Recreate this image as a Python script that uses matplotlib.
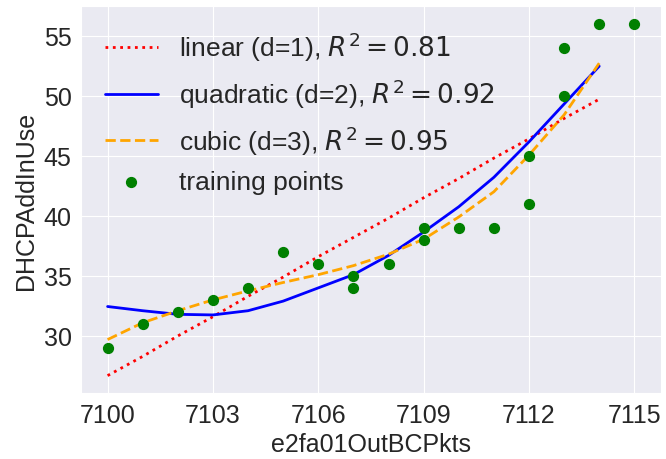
import matplotlib
matplotlib.use("Agg")
import matplotlib.pyplot as plt
import seaborn as sns

# training data
x_train = [7100, 7101, 7102, 7103, 7104, 7105, 7106, 7107, 7107, 7108,
           7109, 7109, 7110, 7111, 7112, 7112, 7113, 7113, 7114, 7115]
y_train = [29, 31, 32, 33, 34, 37, 36, 34, 35, 36,
           38, 39, 39, 39, 41, 45, 50, 54, 56, 56]

# fitted curves (read at integer x, 7100..7114)
x_fit = [7100, 7101, 7102, 7103, 7104, 7105, 7106, 7107,
         7108, 7109, 7110, 7111, 7112, 7113, 7114]
y_lin = [26.7, 28.3, 30.0, 31.6, 33.3, 34.9, 36.6, 38.2,
         39.8, 41.5, 43.1, 44.8, 46.4, 48.1, 49.7]
y_quad = [32.45, 32.1, 31.8, 31.75, 32.1, 32.9, 34.0, 35.1,
          36.7, 38.65, 40.75, 43.2, 46.15, 49.3, 52.45]
y_cubic = [29.7, 31.1, 32.1, 33.0, 33.75, 34.45, 35.1, 35.85,
           36.8, 38.05, 39.9, 42.0, 45.05, 48.4, 52.7]

r2_lin, r2_quad, r2_cubic = 0.81, 0.92, 0.95

sns.set_style("darkgrid")
plt.rcParams["font.family"] = ["Liberation Sans", "DejaVu Sans"]

fig, ax = plt.subplots(figsize=(6.66, 4.6), dpi=100)
fig.subplots_adjust(left=0.122, right=0.992, top=0.985, bottom=0.143)

ax.plot(x_fit, y_lin, color="red", linestyle=":", lw=2,
        label=r"linear (d=1), $R^2 = %.2f$" % r2_lin)
ax.plot(x_fit, y_quad, color="blue", linestyle="-", lw=2,
        label=r"quadratic (d=2), $R^2 = %.2f$" % r2_quad)
ax.plot(x_fit, y_cubic, color="orange", linestyle="--", lw=2,
        label=r"cubic (d=3), $R^2 = %.2f$" % r2_cubic)
ax.scatter(x_train, y_train, color="green", s=50, label="training points", zorder=3)

ax.set_xticks([7100, 7103, 7106, 7109, 7112, 7115])
ax.tick_params(labelsize=18, colors=".15")
ax.set_xlabel("e2fa01OutBCPkts", fontsize=18, color=".15")
ax.set_ylabel("DHCPAddInUse", fontsize=18, color=".15")
ax.legend(loc="upper left", fontsize=19, frameon=False)

fig.savefig("out.png", dpi=100)
